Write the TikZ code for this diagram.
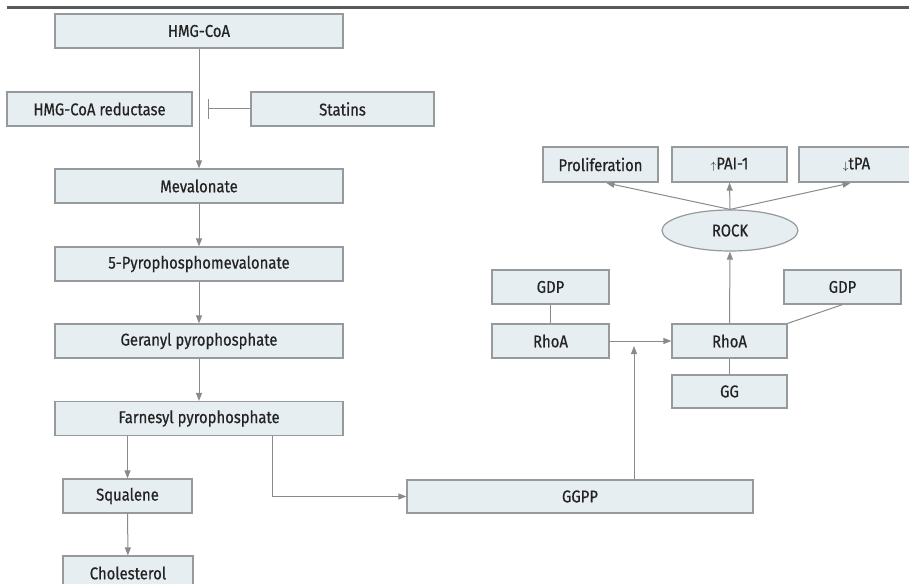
\documentclass[tikz,border=0pt]{standalone}
\usepackage{fontspec}
\setmainfont[FakeStretch=0.87, FakeBold=0.6]{Fira Sans}
\usepackage{xcolor}
\usepackage{tikz}
\usetikzlibrary{shapes, arrows.meta, positioning, calc}

\definecolor{boxfill}{HTML}{E6EEF2}
\definecolor{boxline}{HTML}{959A9D}
\definecolor{flowline}{HTML}{8A8A8A}
\definecolor{txt}{HTML}{232323}

\begin{document}
\begin{tikzpicture}[
    x=0.75pt, y=-0.75pt,
    box/.style={draw=boxline, line width=0.9pt, fill=boxfill, text=txt, font=\fontsize{12.8}{14}\selectfont, minimum height=25.5pt, inner sep=0pt},
    oval/.style={ellipse, draw=boxline, line width=0.9pt, fill=boxfill, text=txt, font=\fontsize{12.8}{14}\selectfont, minimum width=102pt, minimum height=30.75pt, inner sep=0pt},
    flow/.style={draw=flowline, line width=0.75pt, -{Triangle[length=6pt, width=4.5pt]}},
    link/.style={draw=flowline, line width=0.75pt}
]
    \clip (0,0) rectangle (909,584);

    % Top rule
    \draw[line width=1.6pt, color=black!65] (7,7.5) -- (909,7.5);

    % Mevalonate pathway
    \node[box, minimum width=216pt] (hmgcoa) at (199,31) {HMG-CoA};
    \node[box, minimum width=138.75pt] (reductase) at (99.5,109) {HMG-CoA reductase};
    \node[box, minimum width=137.25pt] (statins) at (342.5,109) {Statins};
    \node[box, minimum width=216pt] (mevalonate) at (199,186) {Mevalonate};
    \node[box, minimum width=216pt] (pyro) at (199,264) {5-Pyrophosphomevalonate};
    \node[box, minimum width=216pt] (geranyl) at (199,341) {Geranyl pyrophosphate};
    \node[box, minimum width=216pt] (farnesyl) at (199,418.5) {Farnesyl pyrophosphate};
    \node[box, minimum width=96.75pt] (squalene) at (127.5,496) {Squalene};
    \node[box, minimum width=97.5pt] (cholesterol) at (128,573) {Cholesterol};
    \node[box, minimum width=259.5pt, minimum height=24.75pt] (ggpp) at (580,496.5) {GGPP};

    % RhoA / ROCK
    \node[box, minimum width=87.75pt] (gdpL) at (550.5,287) {GDP};
    \node[box, minimum width=87.75pt] (rhoaL) at (550.5,341) {RhoA};
    \node[box, minimum width=86.25pt] (rhoaR) at (729.5,341) {RhoA};
    \node[box, minimum width=86.25pt, minimum height=24.75pt] (gg) at (729.5,391.5) {GG};
    \node[box, minimum width=87.75pt] (gdpR) at (842.5,287) {GDP};
    \node[oval] (rock) at (730,230.5) {ROCK};
    \node[box, minimum width=86.25pt, minimum height=26.25pt] (prolif) at (600.5,164.5) {Proliferation};
    \node[box, minimum width=86.25pt, minimum height=26.25pt] (pai) at (729.5,164.5) {{\footnotesize$\uparrow$}PAI-1};
    \node[box, minimum width=86.25pt, minimum height=26.25pt] (tpa) at (856.5,164.5) {{\footnotesize$\downarrow$}tPA};

    \coordinate (block) at (208,109);
    \coordinate (join) at (634,341);

    % Connectors
    \draw[flow] (hmgcoa) -- (mevalonate);
    \draw[link, -{Bar[width=15pt]}] (statins.west) -- (block);
    \draw[flow] (mevalonate) -- (pyro);
    \draw[flow] (pyro) -- (geranyl);
    \draw[flow] (geranyl) -- (farnesyl);
    \draw[flow] (squalene.north |- farnesyl.south) -- (squalene.north);
    \draw[flow] (squalene) -- (cholesterol);
    \draw[flow] ([xshift=-53.25pt]farnesyl.south east) |- (ggpp.west);
    \draw[flow] (ggpp.north -| join) -- ([yshift=-3.75pt]join);
    \draw[flow] (rhoaL) -- (rhoaR);
    \draw[link] (gdpL) -- (rhoaL);
    \draw[link] (rhoaR) -- (gg);
    \draw[link] (rhoaR.north east) -- (gdpR.south);
    \draw[flow] (rhoaR) -- (rock);
    \draw[flow, shorten >=1.5pt] (rock.north) -- ([xshift=3pt]prolif.south);
    \draw[flow] (rock.north) -- (pai.south);
    \draw[flow, shorten >=1.5pt] (rock.north) -- ([xshift=-3pt]tpa.south);

\end{tikzpicture}
\end{document}
